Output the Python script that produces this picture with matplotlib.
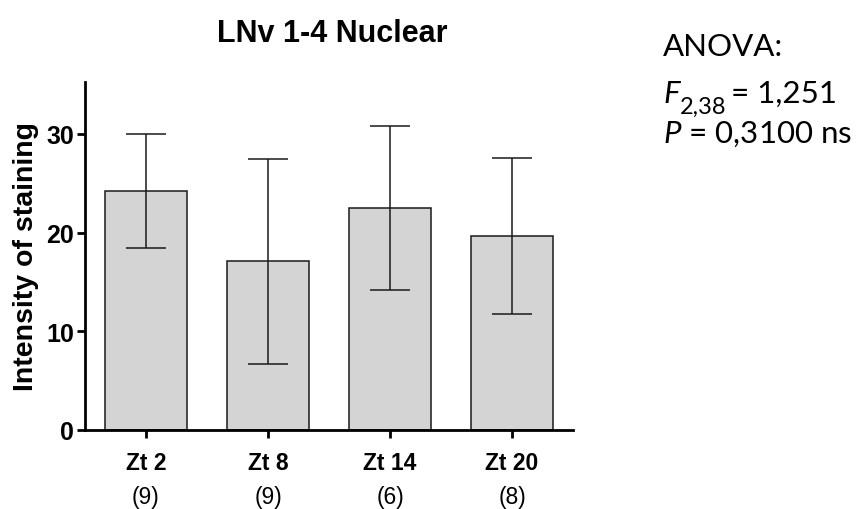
import matplotlib
matplotlib.use("Agg")
import matplotlib.pyplot as plt
import numpy as np

# Data
groups = ["Zt 2", "Zt 8", "Zt 14", "Zt 20"]
n_counts = ["(9)", "(9)", "(6)", "(8)"]
means = [24.2, 17.1, 22.5, 19.7]
sds = [5.8, 10.4, 8.3, 7.9]

plt.rcParams["font.family"] = ["Liberation Sans", "DejaVu Sans"]
plt.rcParams["mathtext.fontset"] = "custom"
plt.rcParams["mathtext.rm"] = "Lato"
plt.rcParams["mathtext.it"] = "Lato:italic"

W, H = 858, 510
fig = plt.figure(figsize=(W / 100, H / 100), dpi=100)
ax = fig.add_axes([0.099, 0.155, 0.569, 0.683])

x = np.arange(len(groups))
ax.bar(x, means, width=0.67, color="#d4d4d4", edgecolor="#1a1a1a", linewidth=1.1, zorder=2)
ax.errorbar(x, means, yerr=sds, fmt="none", ecolor="#1a1a1a", elinewidth=1.1,
            capsize=14.5, capthick=1.1, zorder=3)

ax.set_xlim(-0.5, 3.5)
ax.set_ylim(0, 35.3)
ax.set_yticks([0, 10, 20, 30])
ax.set_xticks(x)
ax.set_xticklabels(groups, fontweight="bold")
ax.set_yticklabels(["0", "10", "20", "30"], fontweight="bold")

for side in ["top", "right"]:
    ax.spines[side].set_visible(False)
for side in ["left", "bottom"]:
    ax.spines[side].set_linewidth(2.0)
    ax.spines[side].set_color("black")
ax.tick_params(axis="both", direction="out", length=6, width=2.0, color="black")
ax.tick_params(axis="y", pad=2, labelsize=18)
ax.tick_params(axis="x", pad=9, labelsize=16.5)

# sample sizes under the group labels
for i, cnt in enumerate(n_counts):
    ax.annotate(cnt, xy=(i, 0), xycoords=("data", "axes fraction"),
                xytext=(0, -48), textcoords="offset points",
                ha="center", va="center", fontsize=16.5)

ax.set_ylabel("Intensity of staining", fontsize=20.5, fontweight="bold", labelpad=5)
ax.set_title("LNv 1-4 Nuclear", fontsize=22, fontweight="bold", pad=29, x=0.506)

# statistics annotation
x0 = 663 / W
fig.text(x0, 1 - 56 / H, "ANOVA:", family="Lato", fontsize=22.5, va="baseline")
f_txt = fig.text(x0, 1 - 103 / H, "F", family="Lato", style="italic",
                 fontsize=22.5, va="baseline")
sub = ax.annotate("2,38", xy=(1, 1 - 114 / H), xycoords=(f_txt, "figure fraction"),
                  xytext=(0.5, 0), textcoords="offset points", family="Lato",
                  fontsize=17, va="baseline", ha="left", annotation_clip=False)
ax.annotate("= 1,251", xy=(1, 1 - 103 / H), xycoords=(sub, "figure fraction"),
            xytext=(3, 0), textcoords="offset points", family="Lato",
            fontsize=22.5, va="baseline", ha="left", annotation_clip=False)
fig.text(x0, 1 - 143 / H, r"$\mathit{P}$" + " = 0,3100 ns",
         family="Lato", fontsize=22.5, va="baseline")

fig.savefig("out.png", dpi=100)
